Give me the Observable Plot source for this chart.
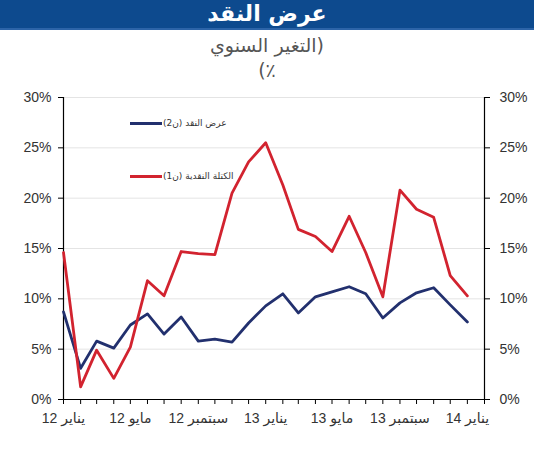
<!DOCTYPE html>
<html><head><meta charset="utf-8">
<script src="https://cdn.jsdelivr.net/npm/d3@7"></script>
<script src="https://cdn.jsdelivr.net/npm/@observablehq/plot@0.6"></script>
<style>
body{margin:0;background:#fff;width:534px;height:450px;overflow:hidden;position:relative;font-family:"Liberation Sans","DejaVu Sans",Arial,sans-serif}
#hdr{height:28px;background:#0d4a8e;border-bottom:2px solid #2c64a8;color:#fff;font:bold 22px "DejaVu Sans",sans-serif;text-align:center;line-height:28px;direction:rtl}
#sub{height:55px;color:#555;font:19px "DejaVu Sans",sans-serif;text-align:center;direction:rtl;line-height:25px;padding-top:3px;box-sizing:border-box}
.leg{position:absolute;display:flex;align-items:center;font:9px "DejaVu Sans",sans-serif;color:#333}
.leg span.l{display:inline-block;width:32px;height:3px;margin-right:1px}
</style></head>
<body>
<div id="hdr">عرض النقد</div>
<div id="sub"><div>(التغير السنوي</div><div>٪)</div></div>
<div id="chart"></div>
<script>
const months = ["2012-01","2012-02","2012-03","2012-04","2012-05","2012-06","2012-07","2012-08","2012-09","2012-10","2012-11","2012-12",
"2013-01","2013-02","2013-03","2013-04","2013-05","2013-06","2013-07","2013-08","2013-09","2013-10","2013-11","2013-12","2014-01"];
const tickMonths = [...months, "2014-02"];
const xLabels = ["يناير 12","مايو 12","سبتمبر 12","يناير 13","مايو 13","سبتمبر 13","يناير 14"];
const m2 = [8.7,3.1,5.8,5.1,7.4,8.5,6.5,8.2,5.8,6.0,5.7,7.6,9.3,10.5,8.6,10.2,10.7,11.2,10.5,8.1,9.6,10.6,11.1,9.4,7.7];
const m1 = [14.6,1.25,4.9,2.1,5.2,11.8,10.3,14.7,14.5,14.4,20.5,23.6,25.5,21.3,16.9,16.2,14.7,18.2,14.6,10.2,20.8,18.9,18.1,12.3,10.3];
const yTicks = [0,5,10,15,20,25,30];
const seriesNames = ["عرض النقد (ن2)","الكتلة النقدية (ن1)"];
const colors = ["#22306e","#d2232f"];

const toDate = s => new Date(s + "-01T00:00:00Z");
const data = months.map((m,i)=>({date:toDate(m), m1:m1[i], m2:m2[i]}));
const tickDates = tickMonths.map(toDate);
const labelFor = d => {
  const i = tickDates.findIndex(t => +t === +d);
  return i % 4 === 0 && i/4 < xLabels.length ? xLabels[i/4] : "";
};

const chart = Plot.plot({
  width:534, height:365,
  marginLeft:63, marginRight:50, marginTop:12, marginBottom:51,
  x:{type:"utc", domain:[tickDates[0], tickDates[tickDates.length-1]]},
  y:{domain:[0,30]},
  style:{fontFamily:'"Liberation Sans","DejaVu Sans",Arial,sans-serif', fontSize:"14px", color:"#333", background:"white", overflow:"visible"},
  marks:[
    Plot.gridY(yTicks.slice(1), {stroke:"#e4e4e4", strokeOpacity:1}),
    Plot.axisY(yTicks, {anchor:"left", tickFormat:d=>d+"%", tickSize:5, tickPadding:7, label:null, fontSize:14, stroke:"#000"}),
    Plot.axisY(yTicks, {anchor:"right", tickFormat:d=>d+"%", tickSize:5, tickPadding:10, label:null, fontSize:14, stroke:"#000"}),
    Plot.axisX(tickDates, {tickSize:5, tickPadding:9, tickFormat:labelFor, label:null, fontSize:14, stroke:"#000"}),
    Plot.ruleX([tickDates[0], tickDates[tickDates.length-1]], {stroke:"#000", strokeWidth:1.2}),
    Plot.ruleY([0], {stroke:"#000", strokeWidth:1.2}),
    Plot.lineY(data, {x:"date", y:"m2", stroke:colors[0], strokeWidth:2.8}),
    Plot.lineY(data, {x:"date", y:"m1", stroke:colors[1], strokeWidth:2.8})
  ]
});
chart.querySelectorAll('g[aria-label="x-axis tick label"] text').forEach(t=>t.setAttribute("direction","rtl"));
document.getElementById("chart").appendChild(chart);

// legend
const legTops = [116, 169];
seriesNames.forEach((n,i)=>{
  const d = document.createElement("div");
  d.className = "leg";
  d.style.left = "130px"; d.style.top = legTops[i] + "px"; d.style.height="14px";
  d.innerHTML = `<span class="l" style="background:${colors[i]}"></span><span dir="rtl">${n}</span>`;
  document.body.appendChild(d);
});
</script>
</body></html>
